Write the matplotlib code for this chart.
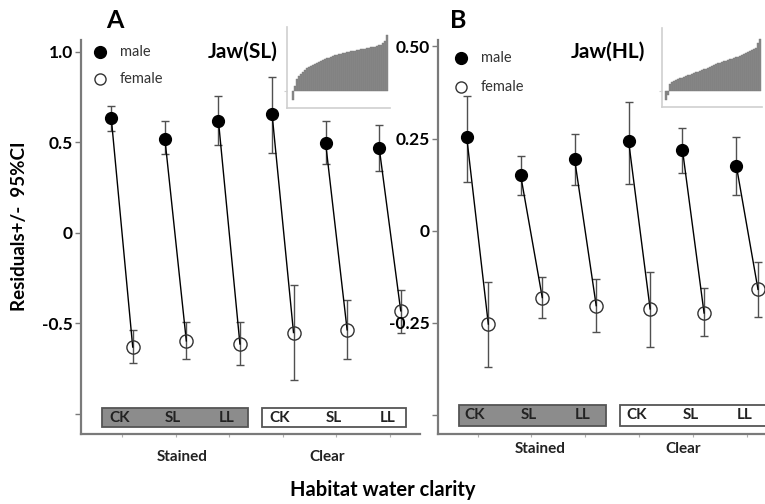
import matplotlib
matplotlib.use("Agg")
import matplotlib.pyplot as plt
from matplotlib.patches import Rectangle
import numpy as np

plt.rcParams['font.family'] = ['Lato', 'DejaVu Sans']

# ---------------- data ----------------
sites = ["CK", "SL", "LL", "CK", "SL", "LL"]
groups = ["Stained", "Clear"]

# Panel A : Jaw(SL)
a_male = [0.633, 0.52, 0.617, 0.656, 0.494, 0.467]
a_male_hi = [0.70, 0.617, 0.756, 0.861, 0.617, 0.594]
a_male_lo = [0.56, 0.433, 0.483, 0.44, 0.378, 0.344]
a_female = [-0.63, -0.596, -0.613, -0.55, -0.535, -0.43]
a_female_hi = [-0.535, -0.49, -0.49, -0.285, -0.37, -0.317]
a_female_lo = [-0.72, -0.695, -0.73, -0.81, -0.695, -0.554]

# Panel B : Jaw(HL)
b_male = [0.253, 0.15, 0.194, 0.244, 0.219, 0.175]
b_male_hi = [0.364, 0.203, 0.263, 0.349, 0.278, 0.253]
b_male_lo = [0.133, 0.097, 0.125, 0.128, 0.156, 0.097]
b_female = [-0.253, -0.181, -0.203, -0.212, -0.223, -0.159]
b_female_hi = [-0.14, -0.126, -0.132, -0.113, -0.154, -0.085]
b_female_lo = [-0.37, -0.236, -0.274, -0.314, -0.286, -0.234]

a_ticks = [1.0, 0.5, 0.0, -0.5, -1.0]
a_ticklabels = ["1.0", "0.5", "0", "-0.5", ""]
b_ticks = [0.5, 0.25, 0.0, -0.25, -0.5]
b_ticklabels = ["0.50", "0.25", "0", "-0.25", ""]

# inset sorted residual profiles (arbitrary units)
inset_a = [-25, 18, 38, 47, 54, 60, 65, 70, 74, 77, 80, 83, 86, 89, 92, 95,
           97, 100, 102, 105, 107, 109, 111, 113, 114, 116, 117, 118, 120, 121,
           122, 123, 125, 126, 127, 128, 129, 130, 132, 133, 135, 136, 138, 140,
           142, 146, 152, 170]
inset_b = [-25, -10, 22, 28, 31, 34, 36, 39, 41, 44, 46, 48, 50, 52, 55, 57,
           59, 62, 64, 66, 68, 70, 73, 76, 79, 82, 84, 86, 88, 90, 92, 94, 96,
           98, 100, 102, 104, 106, 108, 111, 114, 117, 121, 124, 127, 130, 145,
           158]

W, H = 765, 504
fig = plt.figure(figsize=(W / 100, H / 100), dpi=100)

def frac(x0, y0, x1, y1):
    return [x0 / W, 1 - y1 / H, (x1 - x0) / W, (y1 - y0) / H]

spine_col = "#7a7a7a"
err_col = "#505050"


def panel(rect, xlim, ylim, male, mhi, mlo, female, fhi, flo, ticks, ticklabels,
          box_y, stained_x, clear_x, group_x, group_y, title, title_x, letter,
          letter_x, leg_x, leg_y, inset_rect, inset_vals, inset_xlim, inset_ylim):
    ax = fig.add_axes(frac(*rect))
    ax.set_xlim(*xlim)
    ax.set_ylim(*ylim)
    for s in ["top", "right"]:
        ax.spines[s].set_visible(False)
    for s in ["left", "bottom"]:
        ax.spines[s].set_color(spine_col)
        ax.spines[s].set_linewidth(1.6)
    x = np.arange(len(male))
    xm = x - 0.2
    xf = x + 0.2
    for i in range(len(male)):
        ax.plot([xm[i], xf[i]], [male[i], female[i]], color="black", lw=1.0, zorder=2)
    ax.errorbar(xm, male, yerr=[np.array(male) - np.array(mlo), np.array(mhi) - np.array(male)],
                fmt="none", ecolor=err_col, elinewidth=1.0, capsize=3, capthick=1.0, zorder=1)
    ax.errorbar(xf, female, yerr=[np.array(female) - np.array(flo), np.array(fhi) - np.array(female)],
                fmt="none", ecolor=err_col, elinewidth=1.0, capsize=3, capthick=1.0, zorder=1)
    ax.plot(xm, male, "o", color="black", ms=8.5, zorder=3)
    ax.plot(xf, female, "o", mfc="none", mec="#333333", mew=1.0, ms=9.5, zorder=3)

    ax.set_yticks(ticks)
    ax.set_yticklabels(ticklabels, fontsize=12.5, fontweight="bold")
    ax.tick_params(axis="y", length=4, width=1.0, color=spine_col, pad=2)
    ax.set_xticks(x)
    ax.set_xticklabels([])
    ax.tick_params(axis="x", length=2, width=0.8, color="#b0b0b0")

    # habitat boxes
    y0, y1 = box_y
    ax.add_patch(Rectangle((stained_x[0], y0), stained_x[1] - stained_x[0], y1 - y0,
                           facecolor="#8c8c8c", edgecolor="#555555", lw=1.3, zorder=2,
                           clip_on=False))
    ax.add_patch(Rectangle((clear_x[0], y0), clear_x[1] - clear_x[0], y1 - y0,
                           facecolor="white", edgecolor="#555555", lw=1.3, zorder=2,
                           clip_on=False))
    ym = (y0 + y1) / 2
    for i, s in enumerate(sites):
        ax.text(i - 0.05, ym, s, ha="center", va="center", fontsize=11,
                fontweight="bold", color="#222222", zorder=3)
    for gx, g in zip(group_x, groups):
        ax.text(gx, group_y, g, ha="center", va="center", fontsize=11,
                fontweight="bold", color="#222222", transform=ax.transData,
                clip_on=False)

    # title, letter, legend (figure pixel coords)
    fig.text(title_x / W, 1 - 52 / H, title, ha="center", va="center",
             fontsize=15, fontweight="bold")
    fig.text(letter_x / W, 1 - 20 / H, letter, ha="center", va="center",
             fontsize=18, fontweight="bold")
    lx = leg_x / W
    fig.lines.append(plt.Line2D([lx], [1 - leg_y[0] / H], marker="o", color="black",
                                ms=8.5, transform=fig.transFigure, ls="none"))
    fig.lines.append(plt.Line2D([lx], [1 - leg_y[1] / H], marker="o", mfc="none",
                                mec="#333333", ms=8, transform=fig.transFigure, ls="none"))
    fig.text(lx + 20 / W, 1 - leg_y[0] / H, "male", ha="left", va="center",
             fontsize=10.5, color="#333333")
    fig.text(lx + 20 / W, 1 - leg_y[1] / H, "female", ha="left", va="center",
             fontsize=10.5, color="#333333")

    # inset
    ia = fig.add_axes(frac(*inset_rect))
    ia.bar(np.arange(len(inset_vals)), inset_vals, width=1.0, color="#888888",
           edgecolor="#7a7a7a", linewidth=0.3)
    ia.set_xlim(*inset_xlim)
    ia.set_ylim(*inset_ylim)
    for s in ["top", "right"]:
        ia.spines[s].set_visible(False)
    for s in ["left", "bottom"]:
        ia.spines[s].set_color("#cfcfcf")
        ia.spines[s].set_linewidth(1.2)
    ia.set_xticks([])
    ia.set_yticks([0])
    ia.set_yticklabels([])
    ia.tick_params(axis="y", length=2, color="#cfcfcf")
    ia.patch.set_alpha(0)
    return ax


panel(rect=(81, 40, 420, 434), xlim=(-0.765, 5.56), ylim=(-1.11, 1.065),
      male=a_male, mhi=a_male_hi, mlo=a_male_lo,
      female=a_female, fhi=a_female_hi, flo=a_female_lo,
      ticks=a_ticks, ticklabels=a_ticklabels,
      box_y=(-1.073, -0.967), stained_x=(-0.373, 2.35), clear_x=(2.61, 5.29),
      group_x=(1.12, 3.82), group_y=-1.235,
      title="Jaw(SL)", title_x=243, letter="A", letter_x=115,
      leg_x=100, leg_y=(52, 79),
      inset_rect=(287, 27, 390, 108), inset_vals=inset_a,
      inset_xlim=(-3, 48.3), inset_ylim=(-50, 195))

panel(rect=(438, 40, 765, 434), xlim=(-0.733, 5.33), ylim=(-0.551, 0.517),
      male=b_male, mhi=b_male_hi, mlo=b_male_lo,
      female=b_female, fhi=b_female_hi, flo=b_female_lo,
      ticks=b_ticks, ticklabels=b_ticklabels,
      box_y=(-0.528, -0.473), stained_x=(-0.343, 2.38), clear_x=(2.64, 5.45),
      group_x=(1.16, 3.82), group_y=-0.593,
      title="Jaw(HL)", title_x=608, letter="B", letter_x=458,
      leg_x=461, leg_y=(58, 87),
      inset_rect=(662, 28, 762, 107), inset_vals=inset_b,
      inset_xlim=(-2.2, 47.8), inset_ylim=(-47, 190))

fig.text(20 / W, 1 - 226 / H, "Residuals+/-  95%CI", rotation=90, ha="center",
         va="center", fontsize=13.5, fontweight="bold")
fig.text(383 / W, 1 - 490 / H, "Habitat water clarity", ha="center", va="center",
         fontsize=14.5, fontweight="bold")

fig.savefig("out.png", dpi=100)
